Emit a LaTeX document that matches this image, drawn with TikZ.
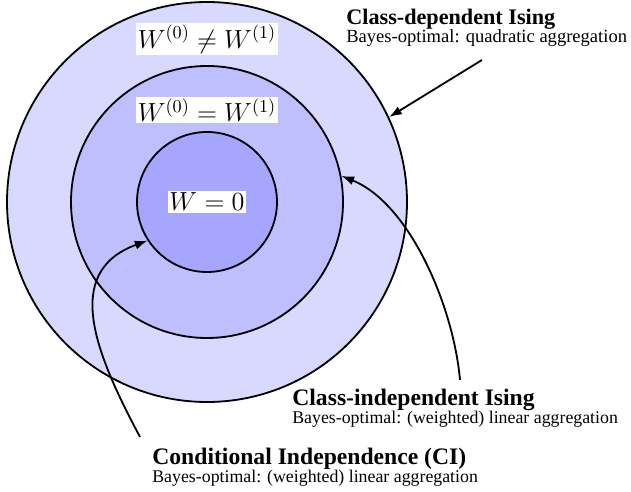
\documentclass[tikz,border=0pt]{standalone}
\usepackage[no-math]{fontspec}
\setmainfont{Liberation Serif}
\usetikzlibrary{arrows.meta}

\begin{document}
\begin{tikzpicture}[x=0.55pt,y=0.55pt,
    ring/.style={circle, draw=black, line width=1pt, inner sep=0pt},
    wlabel/.style={fill=white, inner sep=1pt, font=\fontsize{14.4}{17}\selectfont},
    heading/.style={anchor=base west, inner sep=0pt, font=\fontsize{13}{16}\selectfont\bfseries},
    subheading/.style={anchor=base west, inner sep=0pt, font=\fontsize{9.8}{12}\selectfont},
    pointer/.style={line width=1pt, -{Latex[length=7pt,width=5pt]}}]
  \useasboundingbox (-207,-290) rectangle (424,202);

  % Nested regions
  \node[ring, fill=blue!15, minimum size=220pt] (outer) at (0,0) {};
  \node[ring, fill=blue!25, minimum size=149.6pt] (middle) at (0,0) {};
  \node[ring, fill=blue!35, minimum size=77pt] (inner) at (0,0) {};

  % Region labels
  \node[wlabel] (wneq) at (0,163) {$W^{(0)} \neq W^{(1)}$};
  \node[wlabel] (weq) at (0,92) {$W^{(0)} = W^{(1)}$};
  \node[wlabel] (wzero) at (0,0) {$W = 0$};

  % Model descriptions
  \node[heading, font=\fontsize{12.2}{14}\selectfont\bfseries] (cdep) at (139,177) {Class-dependent Ising};
  \node[subheading, font=\fontsize{10.2}{12}\selectfont] (cdepsub) at (139,159) {Bayes-optimal: quadratic aggregation};
  \node[heading] (cind) at (85,-204) {Class-independent Ising};
  \node[subheading] (cindsub) at (85,-222) {Bayes-optimal: (weighted) linear aggregation};
  \node[heading] (ci) at (-55,-263) {Conditional Independence (CI)};
  \node[subheading] (cisub) at (-55,-281) {Bayes-optimal: (weighted) linear aggregation};

  % Arrows from descriptions to regions
  \coordinate (cdeptail) at (275,142);
  \coordinate (cindtail) at (253,-178);
  \coordinate (citail) at (-67,-235);
  \draw[pointer] (cdeptail) -- (outer.25);
  \draw[pointer] (cindtail) to[out=95,in=-22,looseness=0.8] (middle.11);
  \draw[pointer] (citail) to[out=118,in=200,looseness=1.2] (inner.213);

\end{tikzpicture}
\end{document}
